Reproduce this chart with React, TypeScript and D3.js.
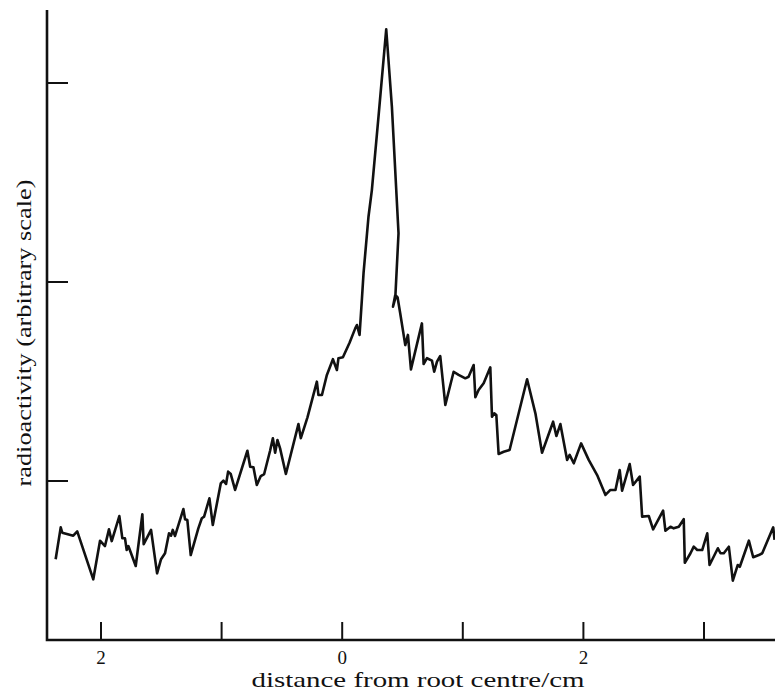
import React, { useRef, useEffect } from "react"
import * as d3 from "d3"

const chart_width = 775
const chart_height = 697

// distance from root centre (cm)
const distance = [
  -2.376, -2.334, -2.321, -2.23, -2.197, -2.064, -2.008, -1.967, -1.934, -1.911,
  -1.848, -1.823, -1.801, -1.787, -1.773, -1.712, -1.657, -1.646, -1.585, -1.535,
  -1.502, -1.469, -1.436, -1.419, -1.405, -1.386, -1.317, -1.303, -1.284, -1.256,
  -1.193, -1.164, -1.145, -1.101, -1.073, -1.007, -0.985, -0.963, -0.946, -0.924,
  -0.888, -0.786, -0.763, -0.736, -0.708, -0.675, -0.647, -0.598, -0.575, -0.556,
  -0.537, -0.515, -0.467, -0.363, -0.343, -0.288, -0.21, -0.197, -0.168, -0.127,
  -0.077, -0.044, -0.031, 0.006, 0.061, 0.108, 0.122, 0.144, 0.163, 0.177,
  0.218, 0.246, 0.301, 0.365, 0.412, 0.467, 0.44, 0.421, 0.44, 0.459,
  0.481, 0.523, 0.545, 0.57, 0.661, 0.675, 0.703, 0.744, 0.763, 0.786,
  0.813, 0.855, 0.924, 0.965, 1.021, 1.048, 1.09, 1.104, 1.131, 1.173,
  1.228, 1.242, 1.261, 1.278, 1.297, 1.339, 1.388, 1.533, 1.602, 1.657,
  1.749, 1.776, 1.809, 1.865, 1.886, 1.92, 1.981, 2.044, 2.114, 2.183,
  2.224, 2.266, 2.301, 2.321, 2.384, 2.412, 2.467, 2.487, 2.542, 2.578,
  2.661, 2.68, 2.722, 2.749, 2.791, 2.832, 2.841, 2.888, 2.915, 2.944,
  2.985, 3.027, 3.046, 3.115, 3.137, 3.164, 3.206, 3.239, 3.28, 3.297,
  3.372, 3.408, 3.455, 3.483, 3.574, 3.585,
]

// radioactivity (arbitrary scale)
const activity = [
  0.607, 0.767, 0.74, 0.725, 0.747, 0.506, 0.7, 0.673, 0.757, 0.698,
  0.824, 0.712, 0.712, 0.653, 0.673, 0.573, 0.833, 0.683, 0.754, 0.536,
  0.607, 0.637, 0.737, 0.725, 0.754, 0.724, 0.859, 0.808, 0.804, 0.628,
  0.762, 0.813, 0.821, 0.913, 0.779, 0.988, 1.002, 0.985, 1.047, 1.035,
  0.955, 1.152, 1.072, 1.069, 0.98, 1.025, 1.035, 1.152, 1.215, 1.142,
  1.206, 1.164, 1.035, 1.286, 1.215, 1.32, 1.499, 1.432, 1.432, 1.533,
  1.612, 1.558, 1.617, 1.622, 1.695, 1.767, 1.784, 1.734, 1.91, 2.045,
  2.328, 2.462, 2.831, 3.27, 2.881, 2.245, 1.918, 1.876, 1.935, 1.923,
  1.843, 1.683, 1.734, 1.561, 1.792, 1.588, 1.617, 1.605, 1.549, 1.6,
  1.628, 1.382, 1.549, 1.533, 1.516, 1.524, 1.583, 1.421, 1.457, 1.491,
  1.571, 1.323, 1.34, 1.332, 1.136, 1.147, 1.156, 1.511, 1.34, 1.142,
  1.298, 1.226, 1.286, 1.106, 1.131, 1.089, 1.189, 1.106, 1.03, 0.93,
  0.955, 0.955, 1.055, 0.951, 1.085, 0.98, 1.022, 0.821, 0.824, 0.757,
  0.851, 0.75, 0.77, 0.762, 0.77, 0.808, 0.589, 0.637, 0.67, 0.653,
  0.653, 0.737, 0.578, 0.662, 0.637, 0.637, 0.67, 0.499, 0.578, 0.569,
  0.7, 0.617, 0.628, 0.637, 0.767, 0.704,
]

const x_ticks = [-2, -1, 0, 1, 2, 3]
const x_tick_labels = ["2", "", "0", "", "2", ""]
const y_ticks = [1, 2, 3]

const x_title = "distance from root centre/cm"
const y_title = "radioactivity (arbitrary scale)"

const App = () => {
  const d3Container = useRef(null)

  useEffect(() => {
    if (!d3Container.current) return
    const svg = d3.select(d3Container.current)
    svg.selectAll("*").remove()

    const left = 47
    const bottom = 640
    const top = 10

    const x_scale = d3.scaleLinear().domain([-2, 3]).range([101, 704])
    const y_scale = d3.scaleLinear().domain([1, 3]).range([481, 83])

    const ink = "#111"
    const font = "'Liberation Serif', serif"

    // axes lines
    svg
      .append("path")
      .attr("d", `M${left},${top}V${bottom}H${chart_width}`)
      .attr("fill", "none")
      .attr("stroke", ink)
      .attr("stroke-width", 2.6)

    // x ticks pointing up
    svg
      .selectAll(".x-tick")
      .data(x_ticks)
      .enter()
      .append("line")
      .attr("class", "x-tick")
      .attr("x1", d => x_scale(d))
      .attr("x2", d => x_scale(d))
      .attr("y1", bottom)
      .attr("y2", bottom - 18)
      .attr("stroke", ink)
      .attr("stroke-width", 2)

    svg
      .selectAll(".x-label")
      .data(x_ticks)
      .enter()
      .append("text")
      .attr("class", "x-label")
      .attr("x", d => x_scale(d))
      .attr("y", 664)
      .attr("text-anchor", "middle")
      .attr("font-family", font)
      .attr("font-size", 19)
      .attr("fill", ink)
      .text((d, i) => x_tick_labels[i])

    // y ticks pointing right
    svg
      .selectAll(".y-tick")
      .data(y_ticks)
      .enter()
      .append("line")
      .attr("class", "y-tick")
      .attr("x1", left)
      .attr("x2", left + 21)
      .attr("y1", d => y_scale(d))
      .attr("y2", d => y_scale(d))
      .attr("stroke", ink)
      .attr("stroke-width", 2)

    // titles (stretched to the wide book face of the original)
    svg
      .append("text")
      .attr("x", 418)
      .attr("y", 687)
      .attr("text-anchor", "middle")
      .attr("font-family", font)
      .attr("font-size", 22)
      .attr("textLength", 333)
      .attr("lengthAdjust", "spacingAndGlyphs")
      .attr("fill", ink)
      .text(x_title)

    svg
      .append("text")
      .attr("transform", "translate(31,333) rotate(-90)")
      .attr("text-anchor", "middle")
      .attr("font-family", font)
      .attr("font-size", 22)
      .attr("textLength", 307)
      .attr("lengthAdjust", "spacingAndGlyphs")
      .attr("fill", ink)
      .text(y_title)

    // trace
    const line = d3
      .line()
      .x(d => x_scale(d[0]))
      .y(d => y_scale(d[1]))

    svg
      .append("path")
      .datum(distance.map((d, i) => [d, activity[i]]))
      .attr("d", line)
      .attr("fill", "none")
      .attr("stroke", ink)
      .attr("stroke-width", 2.6)
      .attr("stroke-linejoin", "round")
  }, [])

  return (
    <svg
      width={chart_width}
      height={chart_height}
      ref={d3Container}
      style={{ display: "block", position: "absolute", left: 0, top: 0, background: "#fff" }}
    />
  )
}

export default App
